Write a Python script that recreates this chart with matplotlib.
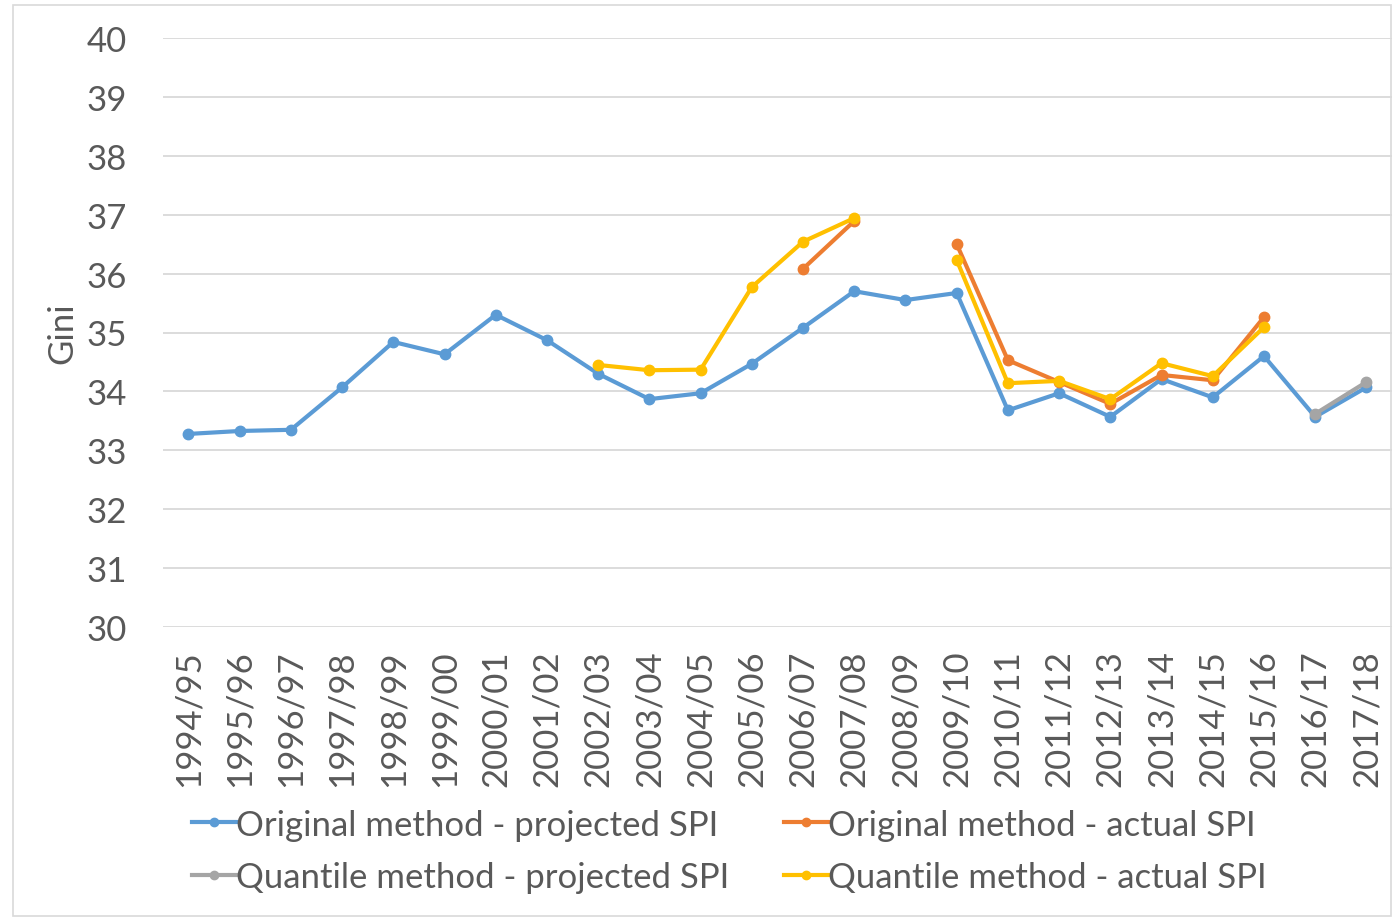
import numpy as np
import matplotlib
matplotlib.use('Agg')
import matplotlib.pyplot as plt
from matplotlib.patches import Rectangle

plt.rcParams['font.family'] = ['Lato', 'DejaVu Sans']

years = ['1994/95', '1995/96', '1996/97', '1997/98', '1998/99', '1999/00',
         '2000/01', '2001/02', '2002/03', '2003/04', '2004/05', '2005/06',
         '2006/07', '2007/08', '2008/09', '2009/10', '2010/11', '2011/12',
         '2012/13', '2013/14', '2014/15', '2015/16', '2016/17', '2017/18']
nan = np.nan

orig_proj = [33.28, 33.33, 33.35, 34.07, 34.84, 34.63, 35.30, 34.87, 34.30,
             33.87, 33.97, 34.47, 35.08, 35.70, 35.55, 35.67, 33.68, 33.97,
             33.57, 34.21, 33.90, 34.60, 33.57, 34.07]
orig_actual = [nan] * 12 + [36.08, 36.89, nan, 36.50, 34.53, 34.16, 33.79,
                            34.28, 34.19, 35.26, nan, nan]
quant_proj = [nan] * 22 + [33.62, 34.16]
quant_actual = [nan] * 8 + [34.45, 34.36, 34.37, 35.77, 36.54, 36.94, nan,
                            36.23, 34.14, 34.18, 33.87, 34.48, 34.26, 35.09,
                            nan, nan]

series = [
    ('Original method - projected SPI', orig_proj, '#5B9BD5'),
    ('Original method - actual SPI', orig_actual, '#ED7D31'),
    ('Quantile method - projected SPI', quant_proj, '#A5A5A5'),
    ('Quantile method - actual SPI', quant_actual, '#FFC000'),
]

fig = plt.figure(figsize=(13.92, 9.2), dpi=100)
ax = fig.add_axes([0.117, 0.317, 0.883, 0.641])

x = np.arange(len(years))
lines = []
for label, vals, col in series:
    ln, = ax.plot(x, vals, color=col, lw=3, marker='o', ms=7.5, label=label)
    lines.append(ln)

ax.set_xlim(-0.5, len(years) - 0.5)
ax.set_ylim(30, 40)
ax.set_yticks(range(30, 41))
ax.set_xticks(x)
ax.set_xticklabels(years, rotation=90)
ax.tick_params(axis='both', length=0, labelsize=25, labelcolor='#595959')
ax.tick_params(axis='y', pad=26)
ax.tick_params(axis='x', pad=16)
ax.grid(axis='y', color='#D9D9D9', lw=1.3)
ax.set_axisbelow(True)
for s in ax.spines.values():
    s.set_visible(False)
ax.set_ylabel('Gini', fontsize=25, color='#595959', labelpad=6)

# legend fills column-wise, so reorder to get row-wise layout
order = [0, 2, 1, 3]
leg = fig.legend([lines[i] for i in order], [series[i][0] for i in order],
                 loc='center', bbox_to_anchor=(0.524, 0.074), ncol=2, frameon=False,
                 fontsize=25, handlelength=1.25, handletextpad=0.0, columnspacing=1.6,
                 labelspacing=0.6, labelcolor='#595959', markerscale=0.8)

fig.patches.append(Rectangle((0.009, 0.003), 0.99, 0.991, transform=fig.transFigure,
                             fill=False, edgecolor='#D9D9D9', lw=1.2))

fig.savefig('out.png', dpi=100)
